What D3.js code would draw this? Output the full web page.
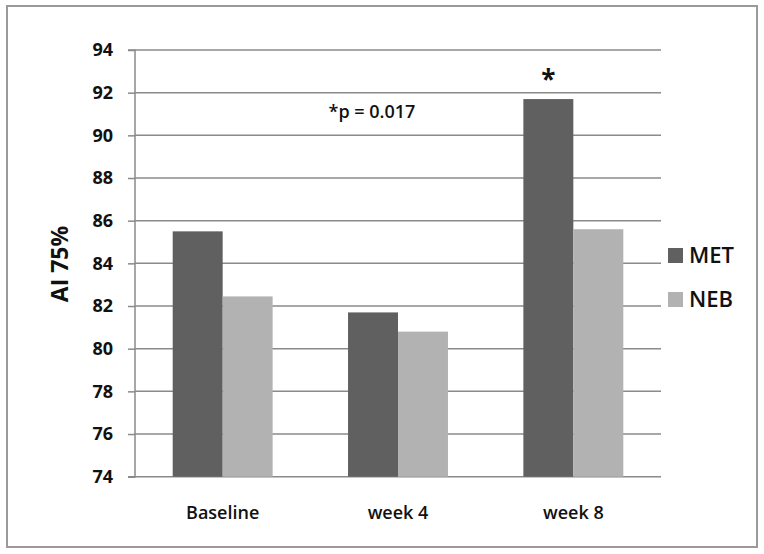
<!DOCTYPE html>
<html>
<head>
<meta charset="utf-8">
<script src="https://cdn.jsdelivr.net/npm/d3@7"></script>
<style>
  html, body { margin: 0; padding: 0; background: #fff; }
  svg { display: block; font-family: "Open Sans", "DejaVu Sans", sans-serif; }
</style>
</head>
<body>
<svg id="chart" width="764" height="554"></svg>
<script>
const categories = ["Baseline", "week 4", "week 8"];
const seriesNames = ["MET", "NEB"];
const metValues = [85.5, 81.7, 91.7];
const nebValues = [82.45, 80.8, 85.6];
const yTicks = [74, 76, 78, 80, 82, 84, 86, 88, 90, 92, 94];
const yLabel = "AI 75%";
const pText = "*p = 0.017";
const sigMark = "*";
const sigIndex = 2;

const colors = { MET: "#606060", NEB: "#b2b2b2" };
const series = { MET: metValues, NEB: nebValues };

const svg = d3.select("#chart");
const W = 764, H = 554;
const margin = { left: 135, right: 103, top: 50, bottom: 77 };
const plotW = W - margin.left - margin.right;

// frame
svg.append("rect")
  .attr("x", 7).attr("y", 6).attr("width", 750).attr("height", 541)
  .attr("fill", "#fff").attr("stroke", "#9a9a9a").attr("stroke-width", 2);

const x0 = d3.scaleBand().domain(categories)
  .range([margin.left, margin.left + plotW])
  .paddingInner(0.43).paddingOuter(0.215);
const x1 = d3.scaleBand().domain(seriesNames).range([0, x0.bandwidth()]);
const y = d3.scaleLinear().domain([74, 94]).range([476.7, 50]);

// gridlines + y axis
const yAxis = d3.axisLeft(y).tickValues(yTicks).tickSize(7).tickPadding(15);
const gy = svg.append("g").attr("transform", `translate(${margin.left},0)`).call(yAxis);
gy.select(".domain").attr("stroke", "#8a8a8a").attr("stroke-width", 1.5)
  .attr("d", `M-7,${y(94)}H0V${y(74)}H-7`);
gy.selectAll(".tick line").attr("stroke", "#8a8a8a").attr("stroke-width", 1.5);
gy.selectAll(".tick text")
  .attr("fill", "#111").attr("font-size", 18).attr("font-weight", 700)
  .attr("font-family", "'Open Sans', sans-serif");

svg.append("g").selectAll("line").data(yTicks).join("line")
  .attr("x1", margin.left).attr("x2", margin.left + plotW)
  .attr("y1", d => y(d)).attr("y2", d => y(d))
  .attr("stroke", "#8a8a8a").attr("stroke-width", 1.5);

// bars
const gBars = svg.append("g");
categories.forEach((c, i) => {
  seriesNames.forEach(s => {
    const v = series[s][i];
    gBars.append("rect")
      .attr("x", x0(c) + x1(s))
      .attr("width", x1.bandwidth())
      .attr("y", y(v))
      .attr("height", y(74) - y(v))
      .attr("fill", colors[s]);
  });
});

// x axis labels
const xAxis = d3.axisBottom(x0).tickSize(0).tickPadding(0);
const gx = svg.append("g").attr("transform", `translate(0,${y(74)})`).call(xAxis);
gx.select(".domain").remove();
gx.selectAll(".tick text")
  .attr("y", 42).attr("dy", 0)
  .attr("fill", "#111").attr("font-size", 18).attr("font-weight", 600)
  .attr("font-family", "'Open Sans', sans-serif");

// y label
svg.append("text")
  .attr("transform", `translate(68,264) rotate(-90)`)
  .attr("text-anchor", "middle")
  .attr("font-size", 23).attr("font-weight", 700).attr("fill", "#111")
  .text(yLabel);

// p-value annotation
svg.append("text")
  .attr("x", 372).attr("y", 118).attr("text-anchor", "middle")
  .attr("font-size", 18).attr("font-weight", 600).attr("fill", "#111")
  .text(pText);

// significance star
svg.append("text")
  .attr("x", x0(categories[sigIndex]) + x1("MET") + x1.bandwidth() / 2)
  .attr("y", 89).attr("text-anchor", "middle")
  .attr("font-size", 26).attr("font-weight", 700).attr("fill", "#111")
  .text(sigMark);

// legend
const legend = svg.append("g");
seriesNames.forEach((s, i) => {
  const ly = 248 + i * 44;
  legend.append("rect").attr("x", 668).attr("y", ly).attr("width", 15).attr("height", 15)
    .attr("fill", colors[s]);
  legend.append("text").attr("x", 689).attr("y", ly + 15)
    .attr("font-size", 22).attr("font-weight", 600).attr("fill", "#111")
    .text(s);
});
</script>
</body>
</html>
